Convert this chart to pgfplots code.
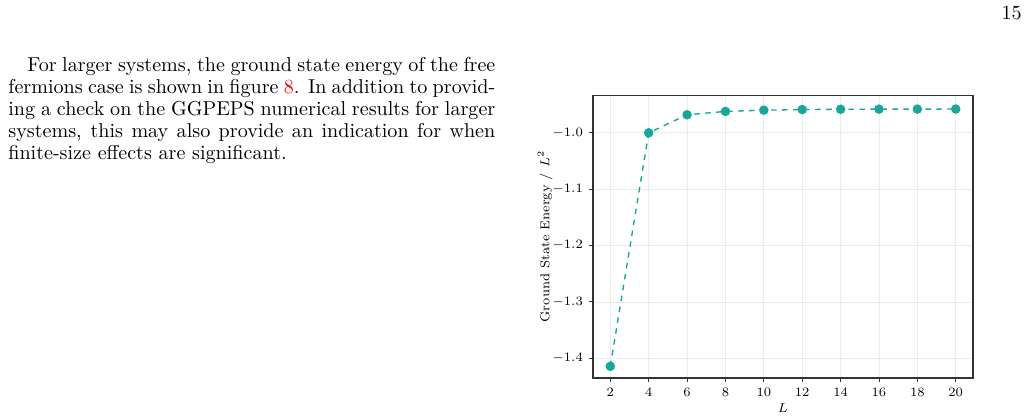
\documentclass[border=0pt]{standalone}
\usepackage{pgfplots}
\pgfplotsset{compat=1.18}
\definecolor{teal1}{RGB}{23,168,155}
\definecolor{gridc}{RGB}{235,235,235}
\definecolor{framec}{RGB}{50,50,50}
\begin{document}
\begin{tikzpicture}
\path[use as bounding box] (0,0) rectangle (560.26pt,228.36pt);
% paragraph
\begin{scope}[every node/.style={anchor=base west,inner sep=0,font=\fontsize{10.95}{13.6}\selectfont}]
\node at (14.7pt,189.4pt) {\makebox[255.1pt][s]{For larger systems, the ground state energy of the free}};
\node at (4.36pt,177.4pt) {\makebox[265.4pt][s]{fermions case is shown in figure \textcolor{red}{8}. In addition to provid-}};
\node at (4.36pt,165.4pt) {\makebox[265.4pt][s]{ing a check on the GGPEPS numerical results for larger}};
\node at (4.36pt,153.4pt) {\makebox[265.4pt][s]{systems, this may also provide an indication for when}};
\node at (4.36pt,141.4pt) {finite-size effects are significant.};
\node[anchor=base east] at (557.0pt,218.0pt) {15};
\end{scope}
\begin{axis}[
  at={(323.2pt,22.35pt)}, anchor=south west,
  width=207.1pt, height=154.2pt, scale only axis,
  xmin=1.1, xmax=20.9, ymin=-1.435, ymax=-0.933,
  xtick={2,4,...,20},
  ytick={-1.4,-1.3,-1.2,-1.1,-1.0},
  yticklabel style={/pgf/number format/.cd,fixed,fixed zerofill,precision=1},
  tick label style={font=\fontsize{7.3}{8}\selectfont},
  label style={font=\fontsize{7}{8}\selectfont},
  xlabel={$L$}, ylabel={Ground State Energy / $L^2$},
  xlabel style={at={(axis description cs:0.5,-0.106)}, anchor=center},
  ylabel style={at={(axis description cs:-0.126,0.5)}, anchor=center},
  grid=major, major grid style={gridc, line width=0.4pt},
  axis line style={framec, line width=0.6pt},
  tick align=outside, xtick pos=left, ytick pos=left,
  major tick length=2pt, tick style={framec, line width=0.5pt},
]
\addplot[teal1, dashed, line width=0.75pt, mark=*, mark size=2.2pt, mark options={solid}] coordinates {
(2,-1.4142) (4,-1.0) (6,-0.968) (8,-0.962) (10,-0.9598) (12,-0.9587) (14,-0.9582) (16,-0.958) (18,-0.9579) (20,-0.9578)
};
\end{axis}
\end{tikzpicture}
\end{document}
